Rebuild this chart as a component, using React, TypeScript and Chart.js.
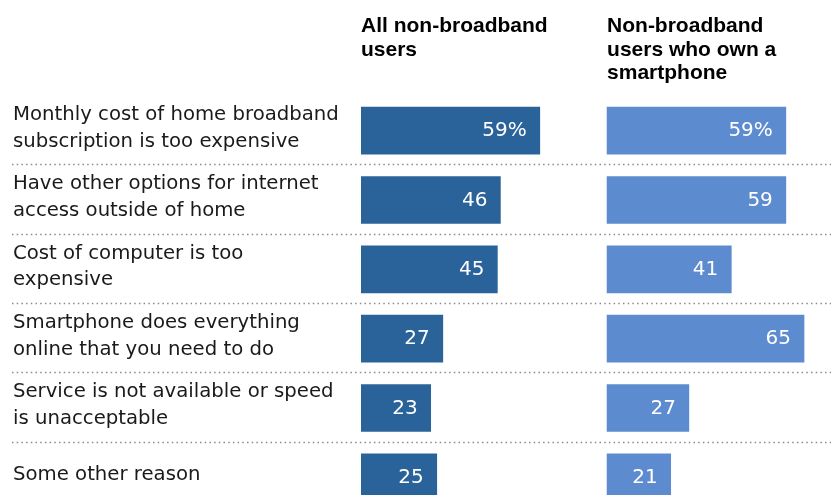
import React, { useEffect, useRef } from "react";
import { Chart, registerables } from "chart.js";

Chart.register(...registerables);

const CATEGORIES: string[][] = [
  ["Monthly cost of home broadband", "subscription is too expensive"],
  ["Have other options for internet", "access outside of home"],
  ["Cost of computer is too", "expensive"],
  ["Smartphone does everything", "online that you need to do"],
  ["Service is not available or speed", "is unacceptable"],
  ["Some other reason"],
];

const ALL_NON_BROADBAND: number[] = [59, 46, 45, 27, 23, 25];
const SMARTPHONE_OWNERS: number[] = [59, 59, 41, 65, 27, 21];

const HEADER_LEFT: string[] = ["All non-broadband", "users"];
const HEADER_RIGHT: string[] = ["Non-broadband", "users who own a", "smartphone"];

// layout constants (not data)
const RIGHT_PANEL_START = 81.2;
const X_MAX = 155.1;
const DARK = "#2a6399";
const LIGHT = "#5d8bcf";

export default function App() {
  const canvasRef = useRef<HTMLCanvasElement | null>(null);

  useEffect(() => {
    if (!canvasRef.current) return;

    const separatorPlugin = {
      id: "separators",
      beforeDatasetsDraw(chart: any) {
        const { ctx } = chart;
        const y = chart.scales.y;
        ctx.save();
        ctx.strokeStyle = "#8a8a8a";
        ctx.lineWidth = 1.5;
        ctx.setLineDash([1.5, 3.2]);
        for (let i = 0; i < CATEGORIES.length - 1; i++) {
          const py = Math.round((y.getPixelForValue(i) + y.getPixelForValue(i + 1)) / 2) - 0.5;
          ctx.beginPath();
          ctx.moveTo(12, py);
          ctx.lineTo(chart.width, py);
          ctx.stroke();
        }
        ctx.restore();
      },
    };

    const labelsPlugin = {
      id: "valueLabels",
      afterDatasetsDraw(chart: any) {
        const { ctx } = chart;
        ctx.save();
        ctx.font = "20px 'DejaVu Sans'";
        ctx.fillStyle = "#ffffff";
        ctx.textAlign = "right";
        ctx.textBaseline = "middle";
        const series = [ALL_NON_BROADBAND, SMARTPHONE_OWNERS];
        series.forEach((vals, di) => {
          const meta = chart.getDatasetMeta(di);
          meta.data.forEach((el: any, i: number) => {
            const txt = i === 0 ? `${vals[i]}%` : `${vals[i]}`;
            ctx.fillText(txt, el.x - 13, el.y + 0.5);
          });
        });
        ctx.restore();
      },
    };

    const headersPlugin = {
      id: "headers",
      afterDraw(chart: any) {
        const { ctx } = chart;
        const x = chart.scales.x;
        ctx.save();
        ctx.font = "bold 21px 'Liberation Sans'";
        ctx.fillStyle = "#000000";
        ctx.textAlign = "left";
        ctx.textBaseline = "alphabetic";
        const lh = 23.6;
        HEADER_LEFT.forEach((t, i) => ctx.fillText(t, x.getPixelForValue(0), 32 + i * lh));
        HEADER_RIGHT.forEach((t, i) =>
          ctx.fillText(t, x.getPixelForValue(RIGHT_PANEL_START), 32 + i * lh)
        );
        ctx.restore();
      },
    };

    const chart = new Chart(canvasRef.current, {
      type: "bar",
      data: {
        labels: CATEGORIES,
        datasets: [
          {
            data: ALL_NON_BROADBAND,
            backgroundColor: DARK,
            grouped: false,
            barThickness: 47,
          } as any,
          {
            data: SMARTPHONE_OWNERS.map((v) => [RIGHT_PANEL_START, RIGHT_PANEL_START + v]),
            backgroundColor: LIGHT,
            grouped: false,
            barThickness: 47,
          } as any,
        ],
      },
      options: {
        indexAxis: "y",
        animation: false,
        responsive: false,
        events: [],
        layout: { padding: { top: 96, left: 13, right: 0, bottom: 0 } },
        plugins: {
          legend: { display: false },
          tooltip: { enabled: false },
          title: { display: false },
        },
        scales: {
          x: {
            display: false,
            min: 0,
            max: X_MAX,
          },
          y: {
            type: "category",
            offset: true,
            grid: { display: false },
            border: { display: false },
            afterFit(scale: any) {
              scale.width = 348;
              scale.paddingTop = 0;
              scale.paddingBottom = 0;
            },
            ticks: {
              autoSkip: false,
              crossAlign: "far",
              padding: 0,
              labelOffset: -2.5,
              color: "#1a1a1a",
              font: { family: "'DejaVu Sans'", size: 19.7, lineHeight: 1.35 },
            },
          },
        },
      },
      plugins: [separatorPlugin, labelsPlugin, headersPlugin],
    });

    return () => chart.destroy();
  }, []);

  return (
    <div
      style={{
        position: "absolute",
        left: 0,
        top: 0,
        width: 831,
        height: 495,
        overflow: "hidden",
        background: "#ffffff",
      }}
    >
      <canvas ref={canvasRef} width={831} height={512} style={{ display: "block", width: 831, height: 512 }} />
    </div>
  );
}
